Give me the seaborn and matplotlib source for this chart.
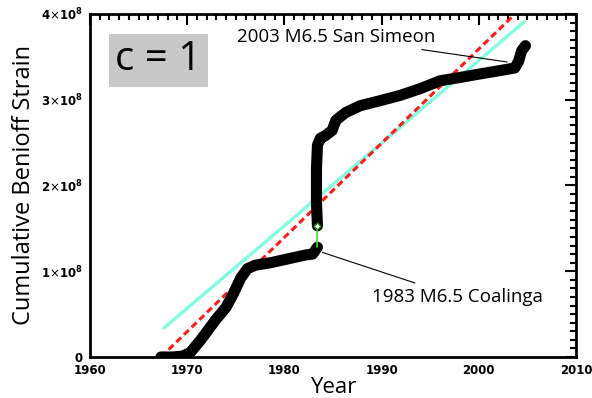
import matplotlib
matplotlib.use("Agg")
import matplotlib.pyplot as plt
import seaborn as sns
import pandas as pd
import numpy as np
from matplotlib.ticker import MultipleLocator, FuncFormatter

# Cumulative Benioff strain (units of 1e8)
years_before = [1967.3, 1968.5, 1969.5, 1970.3, 1971.4, 1972.9, 1974.0, 1974.8, 1975.5,
                1976.2, 1977.0, 1978.6, 1980.6, 1982.2, 1982.9, 1983.4]
strain_before = [0.0, 0.0, 0.01, 0.05, 0.2, 0.43, 0.58, 0.75, 0.92,
                 1.03, 1.07, 1.10, 1.15, 1.19, 1.20, 1.28]
years_after = [1983.4, 1983.3, 1983.3, 1983.4, 1983.7, 1984.2, 1984.9, 1985.3, 1986.3,
               1987.8, 1989.9, 1991.9, 1994.0, 1996.0, 1998.1, 2000.1, 2002.2,
               2003.7, 2004.1, 2004.4, 2004.8]
strain_after = [1.53, 1.80, 2.20, 2.47, 2.55, 2.58, 2.64, 2.76, 2.85,
                2.93, 2.99, 3.05, 3.13, 3.22, 3.26, 3.30, 3.34,
                3.37, 3.45, 3.57, 3.63]
fit_red_x = [1967.3, 2005.0]
fit_red_y = [0.0, 4.14]
fit_cyan_x = [1967.6, 2004.7]
fit_cyan_y = [0.337, 3.91]

scale = 1e8
xticks = [1960, 1970, 1980, 1990, 2000, 2010]

sns.set_style("white")
plt.rcParams['font.family'] = ['DejaVu Sans']
plt.rcParams['text.color'] = 'black'
plt.rcParams['axes.labelcolor'] = 'black'
plt.rcParams['xtick.color'] = 'black'
plt.rcParams['ytick.color'] = 'black'

fig = plt.figure(figsize=(5.92, 3.98), dpi=100)
ax = fig.add_axes([0.152, 0.103, 0.821, 0.862])

df_b = pd.DataFrame({"Year": years_before, "S": np.array(strain_before) * scale})
df_a = pd.DataFrame({"Year": years_after, "S": np.array(strain_after) * scale})
df_r = pd.DataFrame({"Year": fit_red_x, "S": np.array(fit_red_y) * scale})
df_c = pd.DataFrame({"Year": fit_cyan_x, "S": np.array(fit_cyan_y) * scale})
df_g = pd.DataFrame({"Year": [years_before[-1], years_after[0]],
                     "S": [strain_before[-1] * scale, strain_after[0] * scale]})

kw = dict(sort=False, estimator=None)
sns.lineplot(data=df_c, x="Year", y="S", ax=ax, color="#7fffe0", linewidth=2.4, **kw)
sns.lineplot(data=df_r, x="Year", y="S", ax=ax, color="#ff1a1a", linewidth=2.2,
             linestyle=(0, (2.2, 1.3)), **kw)
sns.lineplot(data=df_b, x="Year", y="S", ax=ax, color="black", linewidth=8,
             solid_capstyle="round", solid_joinstyle="round", **kw)
sns.lineplot(data=df_a, x="Year", y="S", ax=ax, color="black", linewidth=8,
             solid_capstyle="round", solid_joinstyle="round", **kw)
sns.lineplot(data=df_g, x="Year", y="S", ax=ax, color="#44dd22", linewidth=1.2, **kw)
ax.plot([years_after[0]], [strain_after[0] * scale], marker="D", ms=3.5, mfc="white",
        mec="#228822", mew=1)

ax.set_xlim(1960, 2010)
ax.set_ylim(0, 4e8)
ax.set_xticks(xticks)
ax.xaxis.set_minor_locator(MultipleLocator(1))
ax.yaxis.set_major_locator(MultipleLocator(1e8))
ax.yaxis.set_minor_locator(MultipleLocator(1e7))

def yfmt(v, p):
    n = int(round(v / 1e8))
    return "0" if n == 0 else r"%d$\times$10$^{\mathbf{8}}$" % n
ax.yaxis.set_major_formatter(FuncFormatter(yfmt))

ax.tick_params(which="both", direction="in", top=True, right=True, width=1.5)
ax.tick_params(which="major", length=8, labelsize=8.5, pad=5)
ax.tick_params(which="minor", length=4)
for lab in ax.get_xticklabels() + ax.get_yticklabels():
    lab.set_fontweight("bold")
for s in ax.spines.values():
    s.set_linewidth(2)
    s.set_color("black")

ax.set_xlabel("Year", fontsize=16, labelpad=0, family="Open Sans")
ax.set_ylabel("Cumulative Benioff Strain", fontsize=17, labelpad=4, family="Open Sans")

ax.text(0.052, 0.865, "c = 1", transform=ax.transAxes, fontsize=29, family="Open Sans",
        va="center", ha="left",
        bbox=dict(boxstyle="square,pad=0.15", fc="#c8c8c8", ec="none"))

ax.annotate("2003 M6.5 San Simeon", xy=(2002.9, 3.44e8), xytext=(1995.5, 3.73e8),
            fontsize=13.5, family="Open Sans", ha="right", va="center",
            arrowprops=dict(arrowstyle="-", color="black", lw=0.8, shrinkA=1, shrinkB=0))
ax.annotate("1983 M6.5 Coalinga", xy=(1983.9, 1.22e8), xytext=(1989.0, 0.70e8),
            fontsize=13.5, family="Open Sans", ha="left", va="center",
            arrowprops=dict(arrowstyle="-", color="black", lw=0.8, shrinkA=4, shrinkB=0))

ax.set_facecolor("white")
fig.savefig("out.png", dpi=100, facecolor="white")
